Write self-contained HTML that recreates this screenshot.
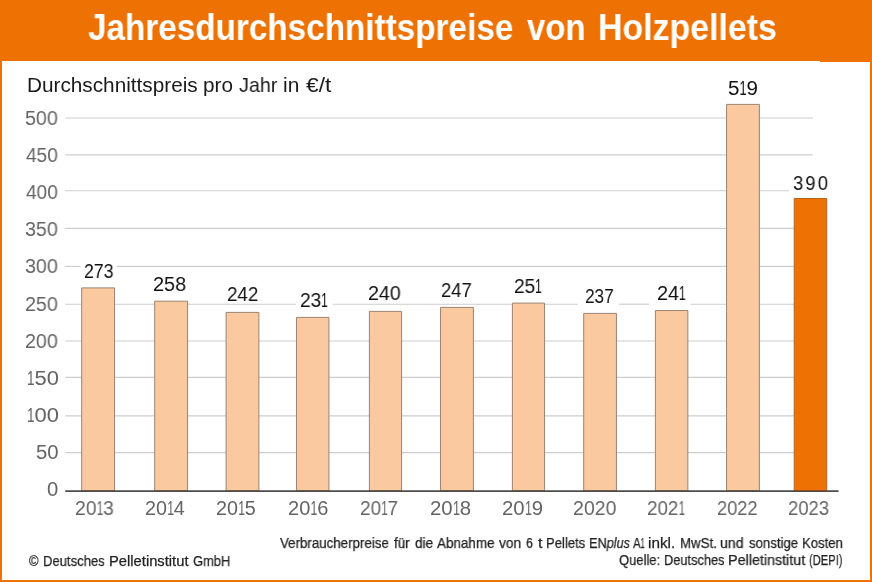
<!DOCTYPE html>
<html><head><meta charset="utf-8"><style>
*{margin:0;padding:0;box-sizing:border-box}
html,body{width:872px;height:582px;overflow:hidden;background:#EE7203}
body{position:relative;font-family:"Liberation Sans",sans-serif}
.panel{position:absolute;left:2px;top:61px;width:868px;height:519px;background:#fff}
.t{position:absolute;white-space:nowrap;transform-origin:0 0;will-change:transform}
.gs{position:absolute;left:0;top:0}
.gl line{stroke:#CDCDCD;stroke-width:1.15}
</style></head><body>
<div class="panel"></div>
<div style="position:absolute;left:820px;top:61px;width:50px;height:1px;background:#EE7203"></div>
<svg class="gs gl" width="872" height="582" viewBox="0 0 872 582"><line x1="65.2" x2="812.8" y1="118.00" y2="118.00"/><line x1="65.2" x2="812.8" y1="154.80" y2="154.80"/><line x1="65.2" x2="788.9" y1="190.70" y2="190.70"/><line x1="65.2" x2="812.8" y1="228.30" y2="228.30"/><line x1="65.2" x2="80.7" y1="266.40" y2="266.40"/><line x1="116.8" x2="812.8" y1="266.40" y2="266.40"/><line x1="65.2" x2="296.0" y1="304.20" y2="304.20"/><line x1="332.7" x2="578.0" y1="304.20" y2="304.20"/><line x1="619.0" x2="649.0" y1="304.20" y2="304.20"/><line x1="690.7" x2="812.8" y1="304.20" y2="304.20"/><line x1="65.2" x2="812.8" y1="341.00" y2="341.00"/><line x1="65.2" x2="812.8" y1="377.40" y2="377.40"/><line x1="65.2" x2="812.8" y1="415.90" y2="415.90"/><line x1="65.2" x2="812.8" y1="452.60" y2="452.60"/></svg>
<svg class="gs" width="872" height="582" viewBox="0 0 872 582"><rect x="81.7" y="287.9" width="32.85" height="203.15" fill="#FAC9A0"/><path d="M81.7,491.05 V287.9 H114.55 V491.05" fill="none" stroke="#9A8474" stroke-width="1"/><rect x="154.7" y="301.2" width="32.85" height="189.85" fill="#FAC9A0"/><path d="M154.7,491.05 V301.2 H187.55 V491.05" fill="none" stroke="#9A8474" stroke-width="1"/><rect x="226.1" y="312.4" width="32.80" height="178.65" fill="#FAC9A0"/><path d="M226.1,491.05 V312.4 H258.9 V491.05" fill="none" stroke="#9A8474" stroke-width="1"/><rect x="296.55" y="317.4" width="32.40" height="173.65" fill="#FAC9A0"/><path d="M296.55,491.05 V317.4 H328.95 V491.05" fill="none" stroke="#9A8474" stroke-width="1"/><rect x="369.4" y="311.4" width="32.20" height="179.65" fill="#FAC9A0"/><path d="M369.4,491.05 V311.4 H401.6 V491.05" fill="none" stroke="#9A8474" stroke-width="1"/><rect x="440.55" y="307.4" width="32.85" height="183.65" fill="#FAC9A0"/><path d="M440.55,491.05 V307.4 H473.4 V491.05" fill="none" stroke="#9A8474" stroke-width="1"/><rect x="512.4" y="303.1" width="32.15" height="187.95" fill="#FAC9A0"/><path d="M512.4,491.05 V303.1 H544.55 V491.05" fill="none" stroke="#9A8474" stroke-width="1"/><rect x="583.7" y="313.4" width="32.75" height="177.65" fill="#FAC9A0"/><path d="M583.7,491.05 V313.4 H616.45 V491.05" fill="none" stroke="#9A8474" stroke-width="1"/><rect x="655.4" y="310.5" width="32.45" height="180.55" fill="#FAC9A0"/><path d="M655.4,491.05 V310.5 H687.85 V491.05" fill="none" stroke="#9A8474" stroke-width="1"/><rect x="726.55" y="104.4" width="32.85" height="386.65" fill="#FAC9A0"/><path d="M726.55,491.05 V104.4 H759.4 V491.05" fill="none" stroke="#9A8474" stroke-width="1"/><rect x="794.2" y="198.5" width="32.50" height="292.55" fill="#EE7203"/><path d="M794.2,491.05 V198.5 H826.7 V491.05" fill="none" stroke="#B8651A" stroke-width="1"/><line x1="65.2" x2="838.6" y1="491.05" y2="491.05" stroke="#4D4D4D" stroke-width="1.8"/><line x1="81.2" x2="115.05" y1="490.55" y2="490.55" stroke="#6A5646" stroke-width="0.9"/><line x1="154.2" x2="188.05" y1="490.55" y2="490.55" stroke="#6A5646" stroke-width="0.9"/><line x1="225.6" x2="259.4" y1="490.55" y2="490.55" stroke="#6A5646" stroke-width="0.9"/><line x1="296.05" x2="329.45" y1="490.55" y2="490.55" stroke="#6A5646" stroke-width="0.9"/><line x1="368.9" x2="402.1" y1="490.55" y2="490.55" stroke="#6A5646" stroke-width="0.9"/><line x1="440.05" x2="473.9" y1="490.55" y2="490.55" stroke="#6A5646" stroke-width="0.9"/><line x1="511.9" x2="545.05" y1="490.55" y2="490.55" stroke="#6A5646" stroke-width="0.9"/><line x1="583.2" x2="616.95" y1="490.55" y2="490.55" stroke="#6A5646" stroke-width="0.9"/><line x1="654.9" x2="688.35" y1="490.55" y2="490.55" stroke="#6A5646" stroke-width="0.9"/><line x1="726.05" x2="759.9" y1="490.55" y2="490.55" stroke="#6A5646" stroke-width="0.9"/><line x1="793.7" x2="827.2" y1="490.55" y2="490.55" stroke="#8A4A1A" stroke-width="0.9"/></svg>

<div class="t" style="left:88.18px;top:9.52px;font-size:36px;line-height:36px;font-weight:700;color:#fff;transform:scaleX(0.9242);">Jahresdurchschnittspreise</div>
<div class="t" style="left:526.50px;top:9.52px;font-size:36px;line-height:36px;font-weight:700;color:#fff;transform:scaleX(0.9145);">von</div>
<div class="t" style="left:598.12px;top:9.52px;font-size:36px;line-height:36px;font-weight:700;color:#fff;transform:scaleX(0.9412);">Holzpellets</div>
<div class="t" style="left:26.65px;top:75.11px;font-size:20.3px;line-height:20.3px;font-weight:400;color:#1A1A1A;transform:scaleX(1.0232);">Durchschnittspreis</div>
<div class="t" style="left:203.08px;top:75.11px;font-size:20.3px;line-height:20.3px;font-weight:400;color:#1A1A1A;transform:scaleX(1.0214);">pro</div>
<div class="t" style="left:239.00px;top:75.11px;font-size:20.3px;line-height:20.3px;font-weight:400;color:#1A1A1A;transform:scaleX(0.9718);">Jahr</div>
<div class="t" style="left:283.27px;top:75.11px;font-size:20.3px;line-height:20.3px;font-weight:400;color:#1A1A1A;transform:scaleX(1.0286);">in</div>
<div class="t" style="left:305.60px;top:75.11px;font-size:20.3px;line-height:20.3px;font-weight:400;color:#1A1A1A;transform:scaleX(1.1217);">€/t</div>
<div class="t" style="left:24.92px;top:107.97px;font-size:20px;line-height:20px;font-weight:400;color:#646464;transform:scaleX(0.9844);">500</div>
<div class="t" style="left:25.90px;top:145.08px;font-size:20px;line-height:20px;font-weight:400;color:#646464;transform:scaleX(0.9545);">450</div>
<div class="t" style="left:25.90px;top:182.19px;font-size:20px;line-height:20px;font-weight:400;color:#646464;transform:scaleX(0.9545);">400</div>
<div class="t" style="left:24.92px;top:219.30px;font-size:20px;line-height:20px;font-weight:400;color:#646464;transform:scaleX(0.9844);">350</div>
<div class="t" style="left:24.92px;top:256.41px;font-size:20px;line-height:20px;font-weight:400;color:#646464;transform:scaleX(0.9844);">300</div>
<div class="t" style="left:24.92px;top:293.52px;font-size:20px;line-height:20px;font-weight:400;color:#646464;transform:scaleX(0.9844);">250</div>
<div class="t" style="left:24.92px;top:330.63px;font-size:20px;line-height:20px;font-weight:400;color:#646464;transform:scaleX(0.9844);">200</div>
<div class="t" style="left:26.70px;top:367.74px;font-size:20px;line-height:20px;font-weight:400;color:#646464;transform:scaleX(1.0963);"><span style="display:inline-block;transform:scaleX(0.62);margin:0 -0.105em">1</span>50</div>
<div class="t" style="left:26.70px;top:404.85px;font-size:20px;line-height:20px;font-weight:400;color:#646464;transform:scaleX(1.0963);"><span style="display:inline-block;transform:scaleX(0.62);margin:0 -0.105em">1</span>00</div>
<div class="t" style="left:36.08px;top:441.96px;font-size:20px;line-height:20px;font-weight:400;color:#646464;transform:scaleX(1.0150);">50</div>
<div class="t" style="left:47.29px;top:479.07px;font-size:20px;line-height:20px;font-weight:400;color:#646464;transform:scaleX(1.0111);">0</div>
<div class="t" style="left:84.02px;top:261.07px;font-size:20px;line-height:20px;font-weight:400;color:#111;transform:scaleX(0.8844);">273</div>
<div class="t" style="left:153.21px;top:274.47px;font-size:20px;line-height:20px;font-weight:400;color:#111;transform:scaleX(0.9938);">258</div>
<div class="t" style="left:226.96px;top:284.47px;font-size:20px;line-height:20px;font-weight:400;color:#111;transform:scaleX(0.9387);">242</div>
<div class="t" style="left:299.64px;top:290.27px;font-size:20px;line-height:20px;font-weight:400;color:#111;transform:scaleX(0.9593);">23<span style="display:inline-block;transform:scaleX(0.62);margin:0 -0.105em">1</span></div>
<div class="t" style="left:368.42px;top:283.07px;font-size:20px;line-height:20px;font-weight:400;color:#111;transform:scaleX(0.9813);">240</div>
<div class="t" style="left:441.48px;top:279.77px;font-size:20px;line-height:20px;font-weight:400;color:#111;transform:scaleX(0.9226);">247</div>
<div class="t" style="left:514.34px;top:275.67px;font-size:20px;line-height:20px;font-weight:400;color:#111;transform:scaleX(0.9593);">25<span style="display:inline-block;transform:scaleX(0.62);margin:0 -0.105em">1</span></div>
<div class="t" style="left:584.84px;top:286.27px;font-size:20px;line-height:20px;font-weight:400;color:#111;transform:scaleX(0.8613);">237</div>
<div class="t" style="left:656.61px;top:283.07px;font-size:20px;line-height:20px;font-weight:400;color:#111;transform:scaleX(0.9926);">24<span style="display:inline-block;transform:scaleX(0.62);margin:0 -0.105em">1</span></div>
<div class="t" style="left:727.77px;top:77.87px;font-size:20px;line-height:20px;font-weight:400;color:#111;transform:scaleX(1.0296);">5<span style="display:inline-block;transform:scaleX(0.62);margin:0 -0.105em">1</span>9</div>
<div class="t" style="left:792.88px;top:172.77px;font-size:20px;line-height:20px;font-weight:400;color:#111;transform:scaleX(0.9250);letter-spacing:2.2px">390</div>
<div class="t" style="left:74.82px;top:499.01px;font-size:19.6px;line-height:19.6px;font-weight:400;color:#646464;transform:scaleX(0.9842);">20<span style="display:inline-block;transform:scaleX(0.62);margin:0 -0.105em">1</span>3</div>
<div class="t" style="left:145.39px;top:499.01px;font-size:19.6px;line-height:19.6px;font-weight:400;color:#646464;transform:scaleX(1.0079);">20<span style="display:inline-block;transform:scaleX(0.62);margin:0 -0.105em">1</span>4</div>
<div class="t" style="left:216.49px;top:499.01px;font-size:19.6px;line-height:19.6px;font-weight:400;color:#646464;transform:scaleX(1.0079);">20<span style="display:inline-block;transform:scaleX(0.62);margin:0 -0.105em">1</span>5</div>
<div class="t" style="left:287.58px;top:499.01px;font-size:19.6px;line-height:19.6px;font-weight:400;color:#646464;transform:scaleX(1.0211);">20<span style="display:inline-block;transform:scaleX(0.62);margin:0 -0.105em">1</span>6</div>
<div class="t" style="left:360.33px;top:499.01px;font-size:19.6px;line-height:19.6px;font-weight:400;color:#646464;transform:scaleX(0.9658);">20<span style="display:inline-block;transform:scaleX(0.62);margin:0 -0.105em">1</span>7</div>
<div class="t" style="left:430.36px;top:499.01px;font-size:19.6px;line-height:19.6px;font-weight:400;color:#646464;transform:scaleX(1.0395);">20<span style="display:inline-block;transform:scaleX(0.62);margin:0 -0.105em">1</span>8</div>
<div class="t" style="left:501.96px;top:499.01px;font-size:19.6px;line-height:19.6px;font-weight:400;color:#646464;transform:scaleX(1.0368);">20<span style="display:inline-block;transform:scaleX(0.62);margin:0 -0.105em">1</span>9</div>
<div class="t" style="left:572.60px;top:499.01px;font-size:19.6px;line-height:19.6px;font-weight:400;color:#646464;transform:scaleX(0.9952);">2020</div>
<div class="t" style="left:646.64px;top:499.01px;font-size:19.6px;line-height:19.6px;font-weight:400;color:#646464;transform:scaleX(0.9579);">202<span style="display:inline-block;transform:scaleX(0.62);margin:0 -0.105em">1</span></div>
<div class="t" style="left:717.07px;top:499.01px;font-size:19.6px;line-height:19.6px;font-weight:400;color:#646464;transform:scaleX(0.9286);">2022</div>
<div class="t" style="left:788.06px;top:499.01px;font-size:19.6px;line-height:19.6px;font-weight:400;color:#646464;transform:scaleX(0.9405);">2023</div>
<div class="t" style="left:28.50px;top:553.52px;font-size:14.5px;line-height:14.5px;font-weight:400;color:#222222;transform:scaleX(0.8818);-webkit-text-stroke:0.25px #222">©</div>
<div class="t" style="left:43.00px;top:553.52px;font-size:14.5px;line-height:14.5px;font-weight:400;color:#222222;transform:scaleX(0.9000);-webkit-text-stroke:0.25px #222">Deutsches</div>
<div class="t" style="left:109.18px;top:553.52px;font-size:14.5px;line-height:14.5px;font-weight:400;color:#222222;transform:scaleX(1.0169);-webkit-text-stroke:0.25px #222">Pelletinstitut</div>
<div class="t" style="left:193.00px;top:553.52px;font-size:14.5px;line-height:14.5px;font-weight:400;color:#222222;transform:scaleX(0.8902);-webkit-text-stroke:0.25px #222">GmbH</div>
<div class="t" style="left:279.80px;top:535.72px;font-size:14.5px;line-height:14.5px;font-weight:400;color:#222222;transform:scaleX(0.9178);-webkit-text-stroke:0.25px #222">Verbraucherpreise</div>
<div class="t" style="left:393.60px;top:535.72px;font-size:14.5px;line-height:14.5px;font-weight:400;color:#222222;transform:scaleX(0.9294);-webkit-text-stroke:0.25px #222">für</div>
<div class="t" style="left:414.70px;top:535.72px;font-size:14.5px;line-height:14.5px;font-weight:400;color:#222222;transform:scaleX(0.9368);-webkit-text-stroke:0.25px #222">die</div>
<div class="t" style="left:437.10px;top:535.72px;font-size:14.5px;line-height:14.5px;font-weight:400;color:#222222;transform:scaleX(0.9274);-webkit-text-stroke:0.25px #222">Abnahme</div>
<div class="t" style="left:499.40px;top:535.72px;font-size:14.5px;line-height:14.5px;font-weight:400;color:#222222;transform:scaleX(0.9478);-webkit-text-stroke:0.25px #222">von</div>
<div class="t" style="left:526.20px;top:535.72px;font-size:14.5px;line-height:14.5px;font-weight:400;color:#222222;transform:scaleX(0.8500);-webkit-text-stroke:0.25px #222">6</div>
<div class="t" style="left:537.80px;top:535.72px;font-size:14.5px;line-height:14.5px;font-weight:400;color:#222222;transform:scaleX(1.1000);-webkit-text-stroke:0.25px #222">t</div>
<div class="t" style="left:545.90px;top:535.72px;font-size:14.5px;line-height:14.5px;font-weight:400;color:#222222;transform:scaleX(0.9000);-webkit-text-stroke:0.25px #222">Pellets</div>
<div class="t" style="left:588.92px;top:535.72px;font-size:14.5px;line-height:14.5px;font-weight:400;color:#222222;transform:scaleX(0.8756);-webkit-text-stroke:0.25px #222">EN<i>plus</i></div>
<div class="t" style="left:633.20px;top:535.72px;font-size:14.5px;line-height:14.5px;font-weight:400;color:#222222;transform:scaleX(0.8000);-webkit-text-stroke:0.25px #222">A<span style="display:inline-block;transform:scaleX(0.62);margin:0 -0.105em">1</span></div>
<div class="t" style="left:648.35px;top:535.72px;font-size:14.5px;line-height:14.5px;font-weight:400;color:#222222;transform:scaleX(1.0542);-webkit-text-stroke:0.25px #222">inkl.</div>
<div class="t" style="left:679.58px;top:535.72px;font-size:14.5px;line-height:14.5px;font-weight:400;color:#222222;transform:scaleX(0.9184);-webkit-text-stroke:0.25px #222">MwSt.</div>
<div class="t" style="left:719.93px;top:535.72px;font-size:14.5px;line-height:14.5px;font-weight:400;color:#222222;transform:scaleX(0.9696);-webkit-text-stroke:0.25px #222">und</div>
<div class="t" style="left:749.00px;top:535.72px;font-size:14.5px;line-height:14.5px;font-weight:400;color:#222222;transform:scaleX(0.9074);-webkit-text-stroke:0.25px #222">sonstige</div>
<div class="t" style="left:802.40px;top:535.72px;font-size:14.5px;line-height:14.5px;font-weight:400;color:#222222;transform:scaleX(0.9047);-webkit-text-stroke:0.25px #222">Kosten</div>
<div class="t" style="left:618.60px;top:552.62px;font-size:14.5px;line-height:14.5px;font-weight:400;color:#222222;transform:scaleX(0.8956);-webkit-text-stroke:0.25px #222">Quelle:</div>
<div class="t" style="left:664.02px;top:552.62px;font-size:14.5px;line-height:14.5px;font-weight:400;color:#222222;transform:scaleX(0.8821);-webkit-text-stroke:0.25px #222">Deutsches</div>
<div class="t" style="left:728.21px;top:552.62px;font-size:14.5px;line-height:14.5px;font-weight:400;color:#222222;transform:scaleX(0.9883);-webkit-text-stroke:0.25px #222">Pelletinstitut</div>
<div class="t" style="left:809.13px;top:552.62px;font-size:14.5px;line-height:14.5px;font-weight:400;color:#222222;transform:scaleX(0.7690);-webkit-text-stroke:0.25px #222">(DEPI)</div>
</body></html>
